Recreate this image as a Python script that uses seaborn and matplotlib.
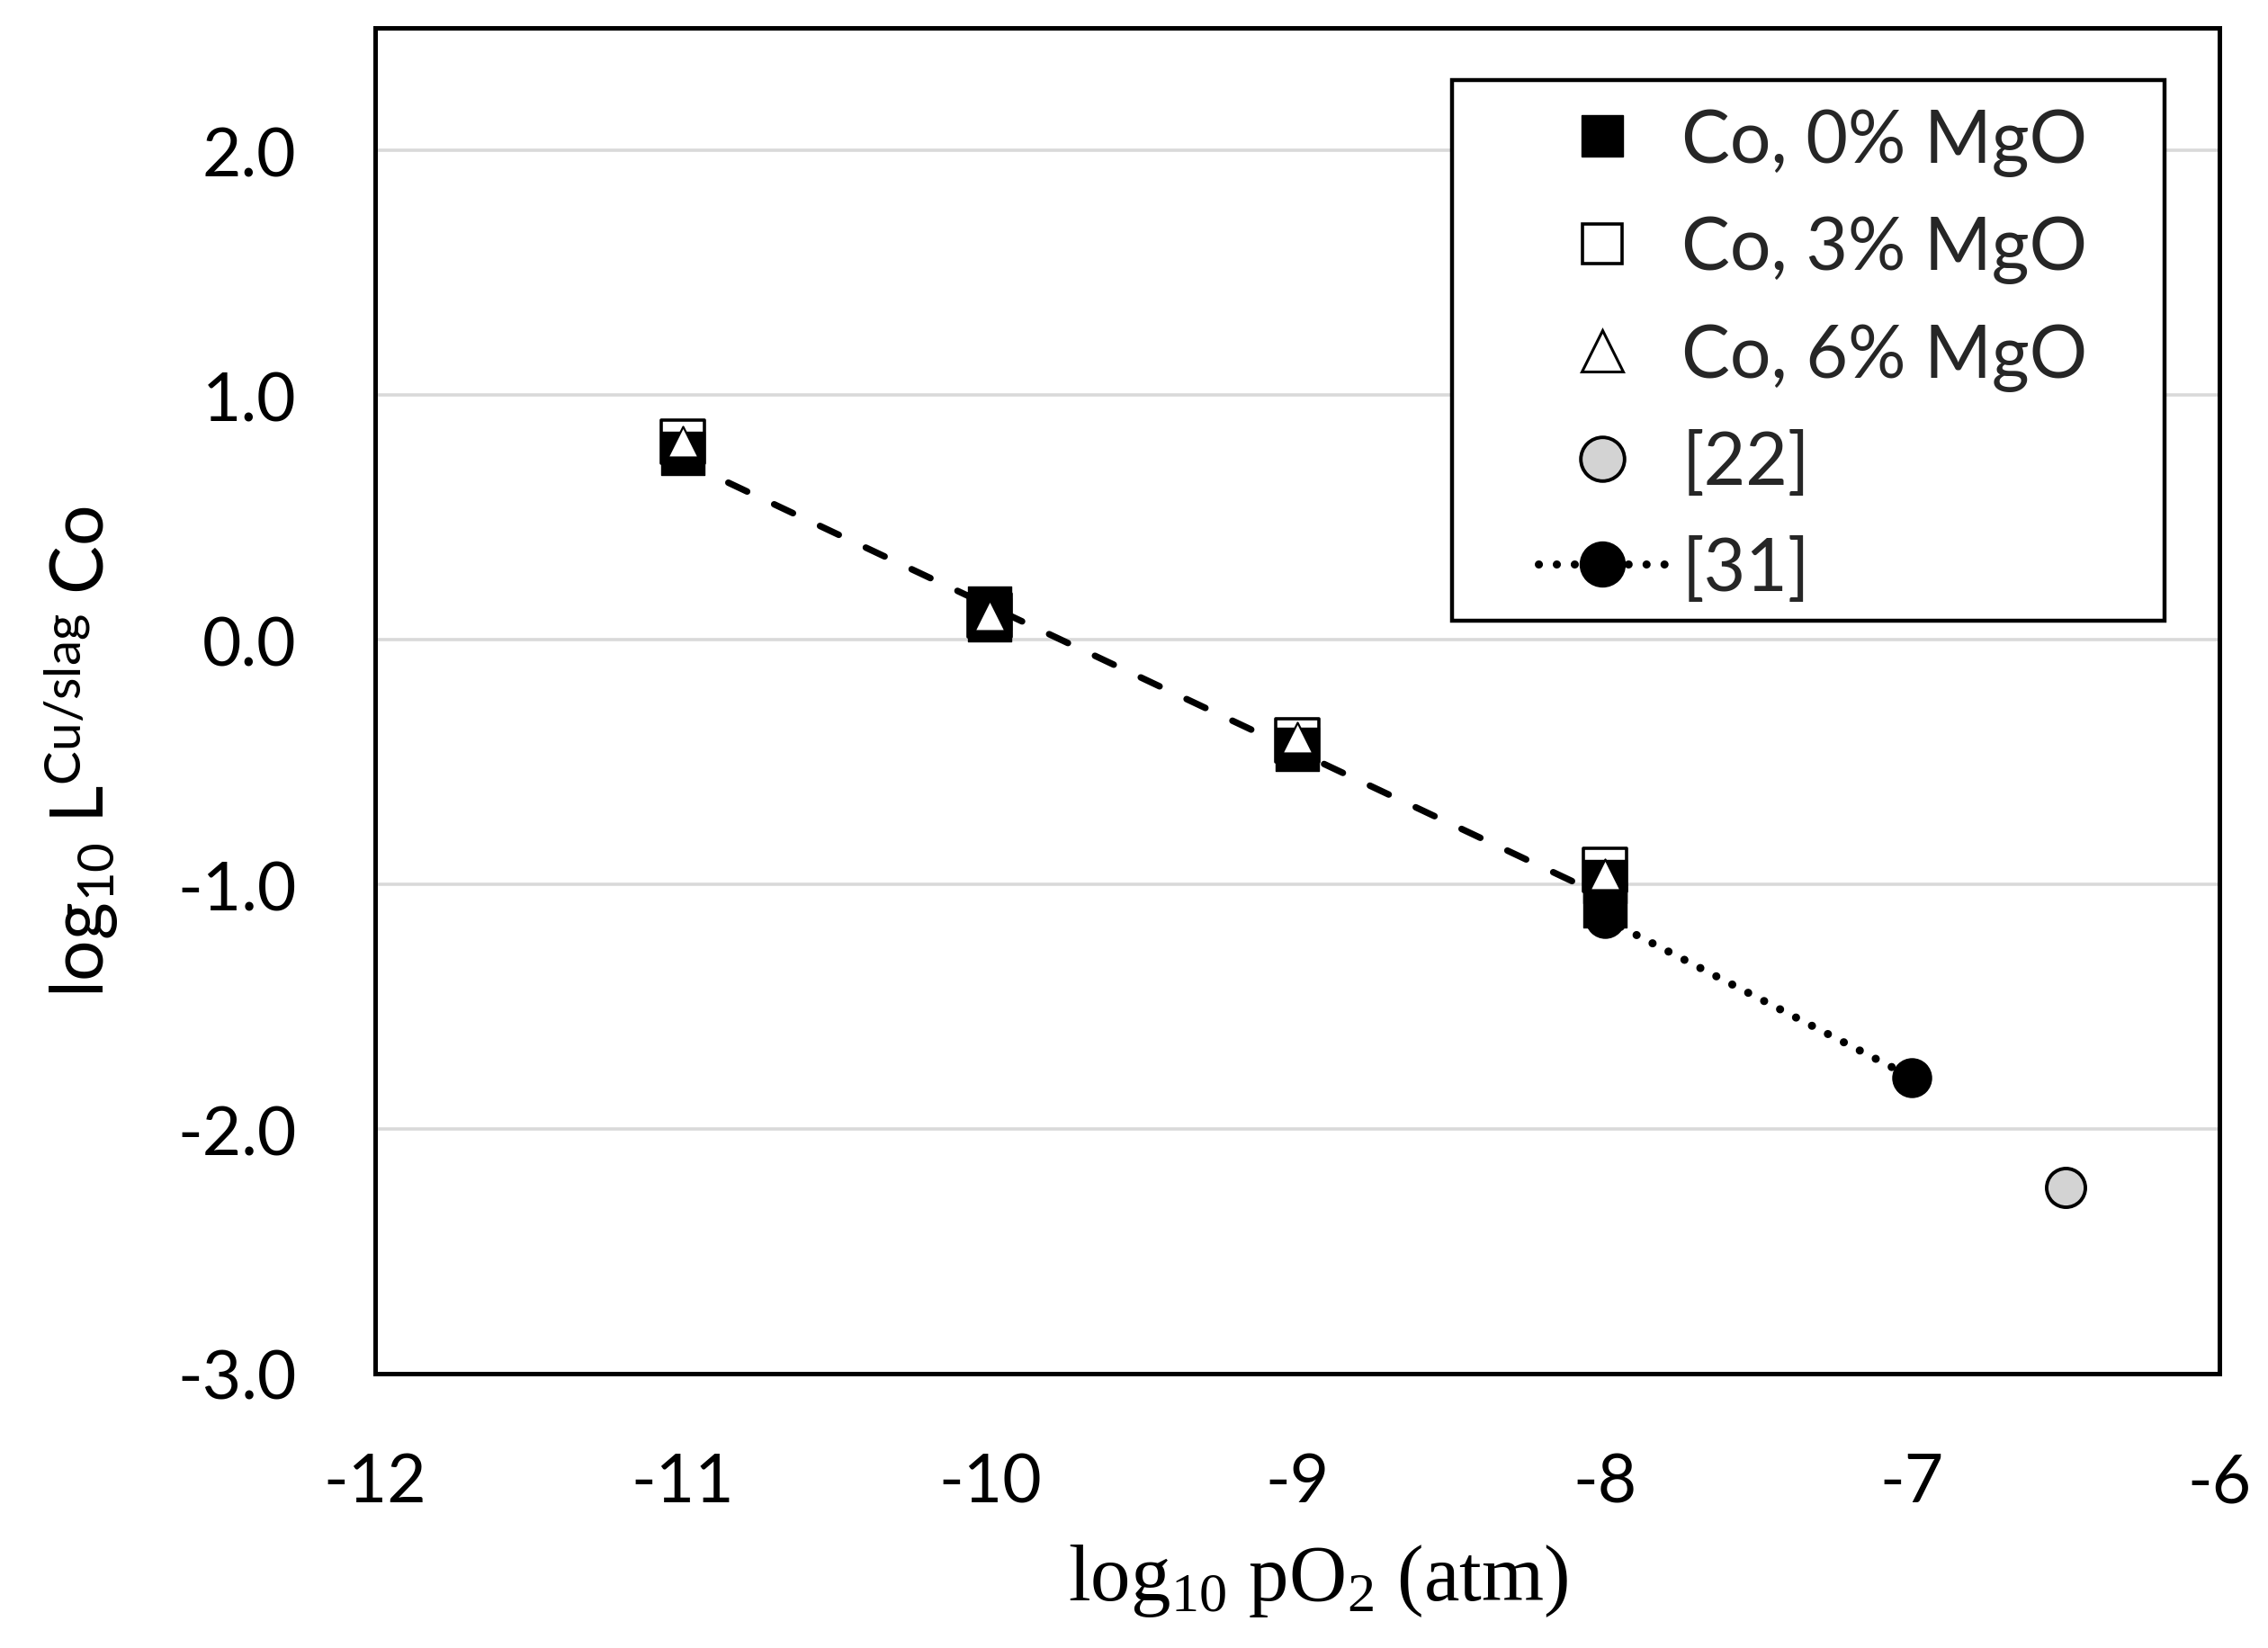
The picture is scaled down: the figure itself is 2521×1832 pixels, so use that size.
import matplotlib
matplotlib.use("Agg")
import matplotlib.pyplot as plt
import matplotlib.patches as mpatches
import seaborn as sns
from matplotlib.lines import Line2D

# ---------------- data ----------------
x_co0 = [-11, -10, -10, -9, -8, -8]
y_co0 = [0.76, 0.13, 0.08, -0.45, -0.99, -1.09]

x_co3 = [-11, -10, -9, -8]
y_co3 = [0.81, 0.10, -0.41, -0.94]

x_co6 = [-11, -10, -9, -8]
y_co6 = [0.81, 0.10, -0.40, -0.96]

x_ref22 = [-6.5]
y_ref22 = [-2.24]

x_ref31 = [-8, -7]
y_ref31 = [-1.14, -1.79]

trend_x = [-11, -8]
trend_y = [0.73, -1.05]

xticks = [-12, -11, -10, -9, -8, -7, -6]
yticks = [-3.0, -2.0, -1.0, 0.0, 1.0, 2.0]
ytick_labels = [f"{v:.1f}" for v in yticks]

legend_labels = ["Co, 0% MgO", "Co, 3% MgO", "Co, 6% MgO", "[22]", "[31]"]

# ---------------- style ----------------
sns.set_theme(style="white")
plt.rcParams["font.family"] = ["Lato", "DejaVu Sans"]
plt.rcParams["axes.unicode_minus"] = False
plt.rcParams["mathtext.fontset"] = "custom"
plt.rcParams["mathtext.rm"] = "Liberation Serif"
plt.rcParams["mathtext.sf"] = "Lato"
plt.rcParams["mathtext.it"] = "Liberation Serif:italic"

fig = plt.figure(figsize=(25.21, 18.33), dpi=100)
ax = fig.add_axes([0.1654, 0.1664, 0.8132, 0.8161])

SQ = 35
TRI = 24.5
CIR = 31
GREY = "#d3d3d3"

# trend line (dashed)
sns.lineplot(x=trend_x, y=trend_y, ax=ax, color="black", lw=5.2,
             linestyle=(0, (3.2, 4.6)), dash_capstyle="round", zorder=2,
             legend=False)

# [31] dotted line with black circles
sns.lineplot(x=x_ref31, y=y_ref31, ax=ax, color="black", lw=6.5,
             linestyle=(0, (0.01, 2.2)), dash_capstyle="round",
             marker="o", markersize=CIR, markerfacecolor="black",
             markeredgecolor="black", markeredgewidth=1, zorder=3,
             legend=False)

# [22] grey circle
sns.scatterplot(x=x_ref22, y=y_ref22, ax=ax, marker="o", s=CIR**2,
                color=GREY, edgecolor="black", linewidth=2.8,
                zorder=4, legend=False)

# Co 3% MgO white squares
sns.scatterplot(x=x_co3, y=y_co3, ax=ax, marker="s", s=SQ**2,
                color="white", edgecolor="black", linewidth=2.6,
                zorder=4, legend=False)

# Co 0% MgO black squares
sns.scatterplot(x=x_co0, y=y_co0, ax=ax, marker="s", s=SQ**2,
                color="black", edgecolor="black", linewidth=1,
                zorder=5, legend=False)

# Co 6% MgO white triangles
sns.scatterplot(x=x_co6, y=y_co6, ax=ax, marker="^", s=TRI**2,
                color="white", edgecolor="black", linewidth=1.6,
                zorder=6, legend=False)

# ---------------- axes ----------------
ax.set_xlim(-12, -6)
ax.set_ylim(-3, 2.5)
ax.set_xticks(xticks)
ax.set_xticklabels([str(v) for v in xticks])
ax.set_yticks(yticks)
ax.set_yticklabels(ytick_labels)
ax.tick_params(axis="both", length=0, labelsize=54, colors="black")
ax.tick_params(axis="y", pad=63)
ax.tick_params(axis="x", pad=62)

ax.yaxis.grid(True, color="#d9d9d9", lw=2.6)
ax.xaxis.grid(False)
ax.set_axisbelow(True)
for sp in ax.spines.values():
    sp.set_visible(True)
    sp.set_color("black")
    sp.set_linewidth(3.6)

ax.set_xlabel(r"log$_{\mathrm{10}}$ pO$_{\mathrm{2}}$ (atm)",
              family="Liberation Serif", fontsize=64, color="black")
ax.xaxis.set_label_coords(0.511, -0.125)
ax.set_ylabel(r"log$_{\mathsf{10}}$ L$^{\mathsf{Cu/slag}}$ Co",
              fontsize=58, color="black")
ax.yaxis.set_label_coords(-0.138, 0.463)

# ---------------- legend ----------------
frame = mpatches.Rectangle((0.584, 0.5595), 0.386, 0.4015,
                           transform=ax.transAxes, facecolor="white",
                           edgecolor="black", lw=3.2, zorder=7)
ax.add_patch(frame)

handles = [
    Line2D([0], [0], marker="s", ls="none", mfc="black", mec="black", ms=33, mew=1),
    Line2D([0], [0], marker="s", ls="none", mfc="white", mec="black", ms=32, mew=2.6),
    Line2D([0], [0], marker="^", ls="none", mfc="white", mec="black", ms=33, mew=2.2),
    Line2D([0], [0], marker="o", ls="none", mfc=GREY, mec="black", ms=35, mew=2.8),
    Line2D([0], [0], marker="o", color="black", lw=6.5, linestyle=(0, (0.01, 2.2)),
           dash_capstyle="round", mfc="black", mec="black", ms=36),
]
leg = ax.legend(handles, legend_labels, loc="center left",
                bbox_to_anchor=(0.6306, 0.757), fontsize=58, frameon=False,
                borderpad=0, labelspacing=0.54, handlelength=1.76,
                handletextpad=0.22, borderaxespad=0)
leg.set_zorder(8)

fig.savefig("out.png", dpi=100, facecolor="white")
